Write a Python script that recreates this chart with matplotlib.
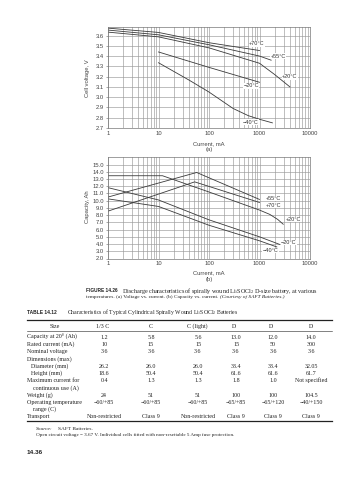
#
# discharge curves page: li/socl2 d-size cell + table of spirally wound cells
#

import numpy as np
import matplotlib.pyplot as plt

# ---- figure (a): cell voltage vs current ----
volt_ticks = [2.7, 2.8, 2.9, 3.0, 3.1, 3.2, 3.3, 3.4, 3.5, 3.6]

cur_a_70 = [1, 10, 100, 1000]
volt_70 = [3.672, 3.63, 3.53, 3.454]

cur_a_55 = [1, 10, 100, 1000, 1700]
volt_55 = [3.653, 3.607, 3.51, 3.40, 3.36]

cur_a_20 = [1, 10, 100, 1000, 2000, 4000]
volt_20 = [3.633, 3.587, 3.48, 3.33, 3.22, 3.10]

cur_a_m20 = [10, 100, 1000]
volt_m20 = [3.44, 3.29, 3.145]

cur_a_m40 = [10, 40, 100, 300, 600, 1000, 1800]
volt_m40 = [3.335, 3.167, 3.05, 2.89, 2.82, 2.785, 2.75]

# ---- figure (b): capacity vs current ----
cap_ticks = [2.0, 3.0, 4.0, 5.0, 6.0, 7.0, 8.0, 9.0, 10.0, 11.0, 12.0, 13.0, 14.0, 15.0]

cur_b_55 = [1, 57, 1000]
cap_55 = [10.5, 13.9, 10.17]

cur_b_70 = [1, 52, 1000]
cap_70 = [8.55, 12.6, 9.75]

cur_b_20 = [1, 12, 100, 1000, 1600, 2300, 2950]
cap_20 = [13.45, 13.45, 11.2, 8.7, 8.1, 7.4, 6.74]

cur_b_m20 = [1, 10, 100, 1000, 2500]
cap_m20 = [11.8, 10.1, 7.35, 5.0, 3.95]

cur_b_m40 = [1, 10, 100, 1000, 2200]
cap_m40 = [10.25, 9.2, 6.6, 4.45, 3.6]

cur_ticks = [1, 10, 100, 1000, 10000]
cur_ticklabels = ['1', '10', '100', '1000', '10000']

# ---- table 14.12 ----
sizes = ['1/3 C', 'C', 'C (light)', 'D', 'D', 'D']
capacity = ['1.2', '5.8', '5.6', '13.0', '12.0', '14.0']
rated_current = ['10', '15', '15', '15', '50', '300']
nominal_voltage = ['3.6', '3.6', '3.6', '3.6', '3.6', '3.6']
diameter = ['26.2', '26.0', '26.0', '33.4', '33.4', '32.05']
height = ['18.6', '50.4', '50.4', '61.6', '61.6', '61.7']
max_current = ['0.4', '1.3', '1.3', '1.8', '1.0', 'Not specified']
weight = ['24', '51', '51', '100', '100', '104.5']
op_temp = ['\u221260/+85', '\u221260/+85', '\u221260/+85', '\u221265/+85', '\u221265/+120', '\u221240/+150']
transport = ['Non-restricted', 'Class 9', 'Non-restricted', 'Class 9', 'Class 9', 'Class 9']

W, H = 358, 480
plt.rcParams['mathtext.fontset'] = 'custom'
plt.rcParams['mathtext.rm'] = 'Liberation Serif'
plt.rcParams['mathtext.it'] = 'Liberation Serif:italic'

SANS = 'Liberation Sans'
SERIF = 'Liberation Serif'
LINE = '#3a3a3a'
GRID = '#9a9a9a'
INK = '#222222'

fig = plt.figure(figsize=(W / 100, H / 100), dpi=100)
renderer = fig.canvas.get_renderer()


def ptext(x, y, s, **kw):
  # place text using pixel coords of the page (y from top)
  kw.setdefault('va', 'center')
  return fig.text(x / W, 1 - y / H, s, **kw)


def text_width(t):
  return t.get_window_extent(renderer).width


def fit_text(x, y, s, width, size, **kw):
  # shrink/grow the font so the line spans the same width as the page
  t = ptext(x, y, s, fontsize=size, **kw)
  t.set_fontsize(size * width / text_width(t))
  return t


def run_text(x, y, parts, gap=1.5):
  # several styles on one line, laid out left to right
  for s, kw in parts:
    t = ptext(x, y, s, **kw)
    x += text_width(t) + gap
  return x


def hline(y, x0, x1, lw):
  fig.add_artist(plt.Line2D([x0 / W, x1 / W], [1 - y / H, 1 - y / H], color=INK, lw=lw))


def setup_axes(ax, ylim, yticks, fmt):
  ax.set_xscale('log')
  ax.set_xlim(1, 10000)
  ax.set_ylim(*ylim)
  ax.set_yticks(yticks)
  ax.set_yticklabels([fmt.format(v) for v in yticks])
  ax.set_xticks(cur_ticks)
  ax.set_xticklabels(cur_ticklabels)
  ax.xaxis.set_minor_locator(plt.matplotlib.ticker.LogLocator(base=10, subs=np.arange(2, 10)))
  ax.xaxis.set_minor_formatter(plt.NullFormatter())
  ax.grid(True, axis='x', which='both', color=GRID, lw=0.45)
  ax.grid(True, axis='y', which='major', color=GRID, lw=0.45)
  ax.tick_params(axis='both', which='both', length=0, labelsize=4.2, labelcolor='#444444', pad=2)
  ax.tick_params(axis='y', length=1.5, width=0.4, color='#666666', pad=1.5)
  for lab in ax.get_xticklabels() + ax.get_yticklabels():
    lab.set_fontfamily(SANS)
  for sp in ax.spines.values():
    sp.set_color('#777777')
    sp.set_linewidth(0.5)
  ax.set_axisbelow(True)


def curve_label(ax, x, y, s):
  ax.text(x, y, s, fontsize=4.0, family=SANS, color='#333333', ha='center', va='center',
          bbox=dict(facecolor='white', edgecolor='none', pad=0.3))


# ---- chart (a) ----
ax_a = fig.add_axes([108 / W, 1 - 128 / H, 202 / W, (128 - 27.3) / H])
setup_axes(ax_a, (2.7, 3.68), volt_ticks, '{:.1f}')
for xs, ys in [(cur_a_70, volt_70), (cur_a_55, volt_55), (cur_a_20, volt_20),
               (cur_a_m20, volt_m20), (cur_a_m40, volt_m40)]:
  ax_a.plot(xs, ys, color=LINE, lw=0.6)
curve_label(ax_a, 880, 3.52, '+70\u00b0C')
curve_label(ax_a, 2350, 3.40, '+55\u00b0C')
curve_label(ax_a, 4000, 3.20, '+20\u00b0C')
curve_label(ax_a, 680, 3.11, '\u221220\u00b0C')
curve_label(ax_a, 660, 2.755, '\u221240\u00b0C')

ptext(88, 78, 'Cell voltage, V', rotation=90, ha='center', fontsize=4.2, family=SANS, color='#444444')
ptext(209, 143.3, 'Current, mA', ha='center', fontsize=4.2, family=SANS, color='#444444')
ptext(209, 149.5, '(a)', ha='center', fontsize=4.2, family=SANS, color='#444444')

# ---- chart (b) ----
ax_b = fig.add_axes([108 / W, 1 - 258.5 / H, 202 / W, (258.5 - 157.3) / H])
setup_axes(ax_b, (2.0, 16.0), cap_ticks, '{:.1f}')
for xs, ys in [(cur_b_55, cap_55), (cur_b_70, cap_70), (cur_b_20, cap_20),
               (cur_b_m20, cap_m20), (cur_b_m40, cap_m40)]:
  ax_b.plot(xs, ys, color=LINE, lw=0.6)
curve_label(ax_b, 1900, 10.3, '+55\u00b0C')
curve_label(ax_b, 1900, 9.35, '+70\u00b0C')
curve_label(ax_b, 4800, 7.4, '+20\u00b0C')
curve_label(ax_b, 3800, 4.2, '\u221220\u00b0C')
curve_label(ax_b, 1650, 3.1, '\u221240\u00b0C')

ptext(88, 207, 'Capacity, Ah', rotation=90, ha='center', fontsize=4.2, family=SANS, color='#444444')
ptext(209, 272.7, 'Current, mA', ha='center', fontsize=4.2, family=SANS, color='#444444')
ptext(209, 279.7, '(b)', ha='center', fontsize=4.2, family=SANS, color='#444444')

# ---- caption ----
fit_text(86, 290.7, 'FIGURE 14.26', 31, 4.0, family=SANS, weight='bold', color=INK)
fit_text(122, 290.7, 'Discharge characteristics of spirally wound Li/SOCl$_2$ D-size battery, at various',
         196, 4.0, family=SERIF, color=INK)
run_text(86, 296.9, [
  ('temperatures. (a) Voltage vs. current. (b) Capacity vs. current.',
   dict(fontsize=3.9, family=SERIF, color=INK)),
  ('(Courtesy of SAFT Batteries.)', dict(fontsize=3.9, family=SERIF, style='italic', color=INK)),
])

# ---- table ----
ptext(27, 312.3, 'TABLE 14.12', fontsize=3.5, family=SANS, weight='bold', color=INK)
fit_text(67, 312.3, 'Characteristics of Typical Cylindrical Spirally Wound Li/SOCl$_2$ Batteries',
         171, 4.3, family=SERIF, color=INK)

hline(320, 27, 332, 0.9)
hline(331, 27, 332, 0.4)
hline(421.3, 27, 332, 0.9)

col_x = [104, 151, 198, 236, 273, 311]
tkw = dict(fontsize=4.3, family=SERIF, color=INK)

ptext(55, 326, 'Size', ha='center', **tkw)
for cx, s in zip([103, 151, 197, 234, 271, 311], sizes):
  ptext(cx, 326, s, ha='center', **tkw)

# row label, indent, values (None = label only line)
rows = [
  ('Capacity at 20\u00b0 (Ah)', 27, capacity),
  ('Rated current (mA)', 27, rated_current),
  ('Nominal voltage', 27, nominal_voltage),
  ('Dimensions (max)', 27, None),
  ('Diameter (mm)', 31, diameter),
  ('Height (mm)', 31, height),
  ('Maximum current for', 27, max_current),
  ('continuous use (A)', 33, None),
  ('Weight (g)', 27, weight),
  ('Operating temperature', 27, op_temp),
  ('range (C)', 33, None),
  ('Transport', 27, transport),
]
y0, pitch = 337.3, 7.22
for i, (lab, ix, vals) in enumerate(rows):
  y = y0 + i * pitch
  ptext(ix, y, lab, ha='left', **tkw)
  if vals is not None:
    for cx, s in zip(col_x, vals):
      ptext(cx, y, s, ha='center', **tkw)

run_text(36, 429.3, [
  ('Source:', dict(fontsize=3.9, family=SERIF, style='italic', color=INK)),
  ('SAFT Batteries.', dict(fontsize=3.9, family=SERIF, color=INK)),
], gap=5)
fit_text(36, 434.8, 'Open circuit voltage = 3.67 V. Individual cells fitted with non-resettable 5 Amp fuse protection.',
         195, 3.9, family=SERIF, color=INK)

ptext(27, 453, '14.36', fontsize=4.6, family=SANS, weight='bold', color=INK)

fig.savefig('out.png', dpi=100)
